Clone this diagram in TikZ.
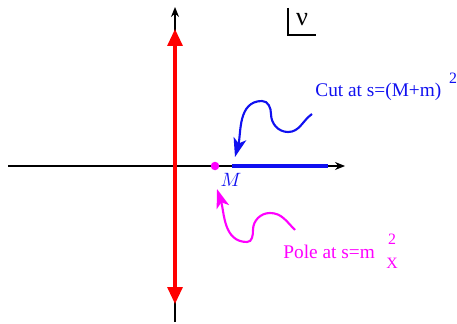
\documentclass[tikz,border=0pt]{standalone}
\usepackage{fontspec}
\setmainfont{Liberation Serif}
\usepackage{xcolor}
\definecolor{cAxis}{HTML}{000000}
\definecolor{cLine}{HTML}{FF0000}
\definecolor{cCut}{HTML}{1010F0}
\definecolor{cPole}{HTML}{FF00FF}
\usetikzlibrary{arrows.meta}
\tikzset{
  axis/.style={-{Stealth[length=2mm,width=1.6mm]},line width=0.8pt,draw=cAxis},
  arrow-red/.style={{Triangle[length=3.4mm,width=3mm]}-{Triangle[length=3.4mm,width=3mm]},line width=1.8pt,draw=cLine},
  cut-line/.style={line width=2.8pt,draw=cCut},
  arrow-cut/.style={-{Stealth[length=3.8mm,width=2.6mm,inset=1mm]},line width=1.2pt,draw=cCut},
  arrow-pole/.style={-{Stealth[length=3.8mm,width=2.6mm,inset=1mm]},line width=1.2pt,draw=cPole},
  pole-dot/.style={circle,fill=cPole,inner sep=0pt,minimum size=1.7mm},
  label-cut/.style={text=cCut,inner sep=0pt},
  label-pole/.style={text=cPole,inner sep=0pt},
}

\begin{document}
\begin{tikzpicture}[x=0.2mm,y=-0.2mm,font=\fontsize{11}{13}\selectfont]
  \useasboundingbox (0,0) rectangle (457,324);
  % axes
  \coordinate (re-l) at (8,166);
  \coordinate (re-r) at (345,166);
  \coordinate (im-b) at (175,322);
  \coordinate (im-t) at (175,7);
  \draw[axis] (re-l) -- (re-r);
  \draw[axis] (im-b) -- (im-t);
  % red line on the imaginary axis
  \coordinate (red-b) at (175,304);
  \coordinate (red-t) at (175,29);
  \draw[arrow-red] (red-b) -- (red-t);
  % cut and pole
  \coordinate (cut-a) at (232,166);
  \coordinate (cut-b) at (328,166);
  \draw[cut-line] (cut-a) -- (cut-b);
  \node[pole-dot] (pole) at (215,166) {};
  \node[label-cut] (M) at (231,180) {$M$};
  % labels
  \node[label-cut,anchor=west] (cut-lbl) at (315,92) {Cut at s=(M+m)};
  \node[label-cut,font=\fontsize{9}{10}\selectfont] (cut-sq) at (453,78) {2};
  \node[label-pole,anchor=west] (pole-lbl) at (283,252) {Pole at s=m};
  \node[label-pole,font=\fontsize{9}{10}\selectfont] (pole-sq) at (392,239) {2};
  \node[label-pole,font=\fontsize{9}{10}\selectfont] (pole-x) at (392,263) {X};
  % wiggly arrows
  \coordinate (cut-s) at (312,114);
  \coordinate (cut-e) at (235,157);
  \draw[arrow-cut] (cut-s) to[out=215,in=0] (288,132) to[out=180,in=-90] (271,114)
    to[out=90,in=0] (262,101) to[out=180,in=75] (cut-e);
  \coordinate (pole-s) at (295,230);
  \coordinate (pole-e) at (217,189);
  \draw[arrow-pole] (pole-s) to[out=135,in=0] (270,213) to[out=180,in=90] (253,230)
    to[out=-90,in=0] (247,242) to[out=180,in=-72] (pole-e);
  % variable box
  \node[inner sep=0pt,font=\fontsize{15}{17}\selectfont] (nu) at (302,20) {ν};
  \draw[line width=0.7pt] (288,8) -- (288,35) -- (316,35);
\end{tikzpicture}
\end{document}
